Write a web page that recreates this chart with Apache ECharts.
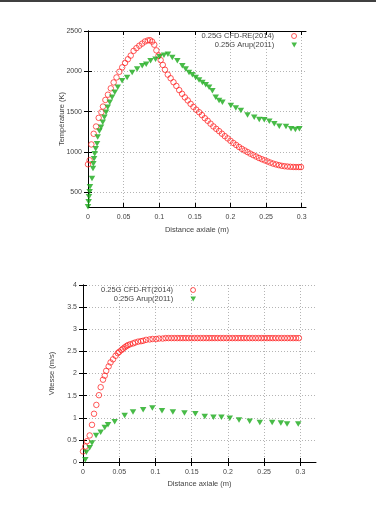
<!DOCTYPE html>
<html>
<head>
<meta charset="utf-8">
<script src="https://cdn.jsdelivr.net/npm/echarts@6/dist/echarts.min.js"></script>
<style>
	html, body { margin: 0; padding: 0; background: #fff; }
	#main { width: 376px; height: 512px; }
</style>
</head>
<body>
<div id="main"></div>
<script>
// haut : température le long de l'axe
var tempCfdX = [0, 0.0023, 0.0047, 0.008, 0.0113, 0.015, 0.0188, 0.021, 0.0244, 0.028,
	0.032, 0.036, 0.040, 0.044, 0.048, 0.052, 0.056, 0.060, 0.064, 0.068,
	0.072, 0.076, 0.080, 0.084, 0.087, 0.090, 0.093, 0.096, 0.099, 0.102,
	0.105, 0.108, 0.112, 0.116, 0.120, 0.124, 0.128, 0.132, 0.136, 0.140,
	0.144, 0.148, 0.152, 0.156, 0.160, 0.164, 0.168, 0.172, 0.176, 0.180,
	0.184, 0.188, 0.192, 0.196, 0.200, 0.204, 0.208, 0.212, 0.216, 0.220,
	0.224, 0.228, 0.232, 0.236, 0.240, 0.244, 0.248, 0.252, 0.256, 0.260,
	0.264, 0.268, 0.272, 0.276, 0.280, 0.284, 0.288, 0.292, 0.296, 0.299];
var tempCfdY = [849, 899, 1095, 1227, 1317, 1424, 1494, 1564, 1646, 1711,
	1790, 1863, 1925, 1995, 2050, 2105, 2150, 2195, 2254, 2288,
	2318, 2344, 2370, 2383, 2386, 2369, 2330, 2260, 2195, 2139,
	2080, 2020, 1960, 1915, 1866, 1820, 1768, 1722, 1678, 1640,
	1598, 1560, 1525, 1494, 1458, 1420, 1388, 1352, 1318, 1288,
	1260, 1228, 1198, 1170, 1140, 1113, 1088, 1063, 1040, 1020,
	1000, 980, 962, 945, 927, 912, 898, 884, 870, 857,
	847, 838, 830, 825, 821, 818, 816, 815, 815, 815];

var tempArupX = [0, 0.0009, 0.0014, 0.0023, 0.0028, 0.0056, 0.0070, 0.0075, 0.0085, 0.0094,
	0.0108, 0.0127, 0.0136, 0.0160, 0.0183, 0.0207, 0.0230, 0.0254, 0.0277, 0.0305,
	0.0338, 0.0376, 0.0418, 0.0479, 0.0549, 0.0620, 0.0690, 0.0761, 0.0817, 0.0878,
	0.0948, 0.1005, 0.1066, 0.1122, 0.1183, 0.1254, 0.1324, 0.1371, 0.1418, 0.1465,
	0.1512, 0.1559, 0.1606, 0.1653, 0.1700, 0.1746, 0.1793, 0.1840, 0.1887, 0.2005,
	0.2075, 0.2146, 0.2239, 0.2333, 0.2404, 0.2474, 0.2545, 0.2615, 0.2685, 0.2779,
	0.2850, 0.2911, 0.2967];
var tempArupY = [323, 385, 446, 508, 570, 672, 796, 857, 919, 980,
	1042, 1104, 1186, 1260, 1309, 1371, 1432, 1494, 1555, 1617,
	1679, 1740, 1802, 1884, 1925, 1987, 2028, 2069, 2089, 2130,
	2151, 2180, 2200, 2212, 2171, 2130, 2069, 2028, 1987, 1958,
	1925, 1892, 1863, 1835, 1802, 1761, 1679, 1638, 1617, 1576,
	1547, 1514, 1461, 1432, 1404, 1400, 1383, 1350, 1321, 1317,
	1289, 1280, 1289];

// bas : vitesse le long de l'axe
var vitCfdX = [0, 0.0032, 0.0055, 0.0092, 0.0124, 0.0152, 0.0184, 0.022, 0.0244, 0.0276,
	0.030, 0.032, 0.0354, 0.038, 0.0414, 0.045, 0.048, 0.050, 0.053, 0.055,
	0.0575, 0.060, 0.062, 0.065, 0.069, 0.072, 0.076, 0.080, 0.083, 0.087,
	0.092, 0.096, 0.101, 0.105, 0.110, 0.114, 0.118, 0.122, 0.126, 0.130,
	0.134, 0.138, 0.142, 0.146, 0.150, 0.154, 0.158, 0.162, 0.166, 0.170,
	0.174, 0.178, 0.182, 0.186, 0.190, 0.194, 0.198, 0.202, 0.206, 0.210,
	0.214, 0.218, 0.222, 0.226, 0.230, 0.234, 0.238, 0.242, 0.246, 0.250,
	0.254, 0.258, 0.262, 0.266, 0.270, 0.274, 0.278, 0.282, 0.286, 0.290,
	0.294, 0.298];
var vitCfdY = [0.24, 0.35, 0.47, 0.60, 0.84, 1.09, 1.29, 1.51, 1.69, 1.86,
	1.95, 2.06, 2.16, 2.25, 2.32, 2.40, 2.46, 2.49, 2.53, 2.56,
	2.59, 2.62, 2.64, 2.66, 2.68, 2.70, 2.72, 2.73, 2.74, 2.76,
	2.77, 2.78, 2.78, 2.79, 2.79, 2.80, 2.80, 2.80, 2.80, 2.80,
	2.80, 2.80, 2.80, 2.80, 2.80, 2.80, 2.80, 2.80, 2.80, 2.80,
	2.80, 2.80, 2.80, 2.80, 2.80, 2.80, 2.80, 2.80, 2.80, 2.80,
	2.80, 2.80, 2.80, 2.80, 2.80, 2.80, 2.80, 2.80, 2.80, 2.80,
	2.80, 2.80, 2.80, 2.80, 2.80, 2.80, 2.80, 2.80, 2.80, 2.80,
	2.80, 2.80];

var vitArupX = [0.0032, 0.0046, 0.0092, 0.0124, 0.018, 0.0244, 0.030, 0.0345, 0.0437, 0.0575,
	0.069, 0.083, 0.0957, 0.109, 0.124, 0.140, 0.155, 0.168, 0.180, 0.191,
	0.2025, 0.2153, 0.230, 0.244, 0.261, 0.273, 0.2816, 0.297];
var vitArupY = [0.05, 0.22, 0.32, 0.43, 0.60, 0.67, 0.78, 0.84, 0.91, 1.05,
	1.13, 1.18, 1.22, 1.16, 1.13, 1.11, 1.09, 1.03, 1.01, 1.01,
	0.99, 0.95, 0.92, 0.89, 0.89, 0.88, 0.86, 0.86];

var xTicks = [0, 0.05, 0.1, 0.15, 0.2, 0.25, 0.3];
var tempTicks = [500, 1000, 1500, 2000, 2500];
var vitTicks = [0, 0.5, 1, 1.5, 2, 2.5, 3, 3.5, 4];

var nameCfdTemp = '0.25G CFD-RE(2014)';
var nameCfdVit = '0.25G CFD-RT(2014)';
var nameArup = '0.25G Arup(2011)';

(function() {

	var font = 'Liberation Sans';
	var txt = '#444';
	var red = '#ff1a1a';
	var green = '#1aaa1a';
	var triDown = 'path://M0,0L10,0L5,9Z';

	function pairs(xs, ys) {
		var out = [];
		for (var i = 0; i < xs.length; i++) out.push([xs[i], ys[i]]);
		return out;
	}

	function fmt(v) { return String(v); }

	// axe principal (labels + grille pointillée)
	function mainX(grid, max, nameGap) {
		return {
			type: 'value', gridIndex: grid, min: 0, max: max,
			name: 'Distance axiale (m)', nameLocation: 'middle', nameGap: nameGap,
			nameMoveOverlap: false,
			nameTextStyle: { fontFamily: font, fontSize: 7.5, color: txt },
			axisLine: { show: true, lineStyle: { color: '#000', width: 1 } },
			axisTick: { show: true, inside: true, length: 4, customValues: xTicks, lineStyle: { color: '#000' } },
			axisLabel: { customValues: xTicks, formatter: fmt, margin: 7, fontFamily: font, fontSize: 7, color: txt },
			splitLine: { show: true, lineStyle: { color: '#b4b4b4', type: [1, 2], width: 1 } }
		};
	}
	// axe miroir (ticks seulement)
	function mirrorX(grid, max, lineShow) {
		return {
			type: 'value', gridIndex: grid, position: 'top', min: 0, max: max,
			axisLine: { show: lineShow, lineStyle: { color: '#000', width: 1 } },
			axisTick: { show: true, inside: true, length: 4, customValues: xTicks, lineStyle: { color: '#000' } },
			axisLabel: { show: false },
			splitLine: { show: false }
		};
	}
	function mainY(grid, min, max, ticks, name, nameGap) {
		return {
			type: 'value', gridIndex: grid, min: min, max: max,
			name: name, nameLocation: 'middle', nameGap: nameGap,
			nameMoveOverlap: false,
			nameTextStyle: { fontFamily: font, fontSize: 7.5, color: txt },
			axisLine: { show: true, lineStyle: { color: '#000', width: 1 } },
			axisTick: { show: true, inside: true, length: 4, customValues: ticks, lineStyle: { color: '#000' } },
			axisLabel: { customValues: ticks, formatter: fmt, margin: 6, fontFamily: font, fontSize: 7, color: txt },
			splitLine: { show: true, lineStyle: { color: '#b4b4b4', type: [1, 2], width: 1 } }
		};
	}
	function mirrorY(grid, min, max, ticks) {
		return {
			type: 'value', gridIndex: grid, position: 'right', min: min, max: max,
			axisLine: { show: true, lineStyle: { color: '#000', width: 1 } },
			axisTick: { show: true, inside: true, length: 4, customValues: ticks, lineStyle: { color: '#000' } },
			axisLabel: { show: false },
			splitLine: { show: false }
		};
	}

	// cercles creux à trait fin (emptyCircle force un trait de 2px)
	var circleStyle = { color: 'rgba(255,255,255,0)', borderColor: red, borderWidth: 0.9 };

	function legendOf(name, top, right, icon, itemStyle) {
		var lg = {
			data: [name], top: top, right: right,
			itemWidth: 6, itemHeight: 5, align: 'right', padding: 0,
			selectedMode: false,
			textStyle: { fontFamily: font, fontSize: 7.5, color: txt, padding: [0, 12, 0, 0] }
		};
		if (icon) {
			lg.icon = icon;
			lg.itemStyle = itemStyle;
		}
		return lg;
	}

	var option = {
		animation: false,
		backgroundColor: '#fff',
		graphic: [{
			type: 'line', shape: { x1: 0, y1: 1, x2: 376, y2: 1 },
			style: { stroke: '#000', lineWidth: 1.5 }
		}],
		grid: [
			{ left: 88, top: 31, width: 218, height: 176 },
			{ left: 83, top: 285, width: 233, height: 177 }
		],
		legend: [
			legendOf(nameCfdTemp, 32, 79, 'circle', circleStyle),
			legendOf(nameArup, 41, 79),
			legendOf(nameCfdVit, 286, 180, 'circle', circleStyle),
			legendOf(nameArup, 295, 180)
		],
		xAxis: [
			mainX(0, 0.306, 19),
			mirrorX(0, 0.306, true),
			mainX(1, 0.3215, 18),
			mirrorX(1, 0.3215, false)
		],
		yAxis: [
			mainY(0, 320, 2500, tempTicks, 'Température (K)', 22),
			mirrorY(0, 320, 2500, tempTicks),
			mainY(1, 0, 4, vitTicks, 'Vitesse (m/s)', 27),
			mirrorY(1, 0, 4, vitTicks)
		],
		series: [
			{
				name: nameCfdTemp, type: 'scatter', xAxisIndex: 0, yAxisIndex: 0,
				symbol: 'circle', symbolSize: 5.5,
				itemStyle: circleStyle,
				data: pairs(tempCfdX, tempCfdY)
			},
			{
				name: nameArup, type: 'scatter', xAxisIndex: 0, yAxisIndex: 0,
				symbol: triDown, symbolSize: [6.5, 5.5],
				itemStyle: { color: green },
				data: pairs(tempArupX, tempArupY)
			},
			{
				name: nameCfdVit, type: 'scatter', xAxisIndex: 2, yAxisIndex: 2,
				symbol: 'circle', symbolSize: 5.5,
				itemStyle: circleStyle,
				data: pairs(vitCfdX, vitCfdY)
			},
			{
				name: nameArup, type: 'scatter', xAxisIndex: 2, yAxisIndex: 2,
				symbol: triDown, symbolSize: [6.5, 5.5],
				itemStyle: { color: green },
				data: pairs(vitArupX, vitArupY)
			}
		]
	};

	var chart = echarts.init(document.getElementById('main'));
	chart.setOption(option);

})();
</script>
</body>
</html>
